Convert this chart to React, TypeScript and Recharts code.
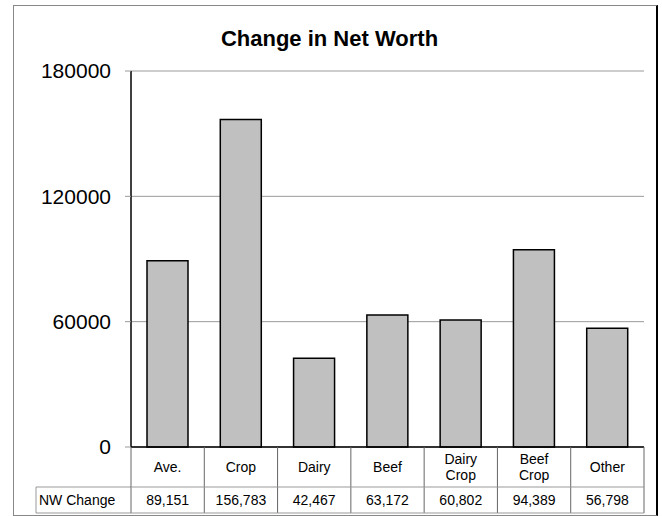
import React from 'react';
import { BarChart, Bar, XAxis, YAxis, CartesianGrid } from 'recharts';

const categories = ['Ave.', 'Crop', 'Dairy', 'Beef', 'Dairy Crop', 'Beef Crop', 'Other'];
const nwChange = [89151, 156783, 42467, 63172, 60802, 94389, 56798];
const seriesName = 'NW Change';
const yTicks = [0, 60000, 120000, 180000];

const data = categories.map((c, i) => ({ category: c, value: nwChange[i] }));

const FONT = "Arial, 'Liberation Sans', sans-serif";
const PLOT_LEFT = 131;
const PLOT_RIGHT = 644;
const AXIS_Y = 447;
const ROW_MID = 487;
const ROW_BOTTOM = 513;
const BAND = (PLOT_RIGHT - PLOT_LEFT) / categories.length;

function TableTick(props: any) {
  const { x, payload, index } = props;
  const label: string = payload.value;
  const words = label.split(' ');
  const left = x - BAND / 2;
  const right = x + BAND / 2;
  const val = nwChange[index];
  return (
    <g fontFamily={FONT} fontSize={14} fill="#000">
      {index === 0 && (
        <g>
          <line x1={36} y1={ROW_MID} x2={left} y2={ROW_MID} stroke="#999" />
          <line x1={36} y1={ROW_BOTTOM} x2={left} y2={ROW_BOTTOM} stroke="#999" />
          <line x1={36} y1={ROW_MID} x2={36} y2={ROW_BOTTOM} stroke="#999" />
          <text x={39} y={ROW_MID + 18} textAnchor="start">{seriesName}</text>
          <line x1={left} y1={AXIS_Y} x2={left} y2={ROW_BOTTOM} stroke="#666" />
        </g>
      )}
      <line x1={right} y1={AXIS_Y} x2={right} y2={ROW_BOTTOM} stroke="#666" />
      <line x1={left} y1={ROW_MID} x2={right} y2={ROW_MID} stroke="#999" />
      <line x1={left} y1={ROW_BOTTOM} x2={right} y2={ROW_BOTTOM} stroke="#999" />
      {words.length === 1 ? (
        <text x={x} y={AXIS_Y + 25} textAnchor="middle">{label}</text>
      ) : (
        words.map((w, i) => (
          <text key={i} x={x} y={AXIS_Y + 17 + i * 16} textAnchor="middle">{w}</text>
        ))
      )}
      <text x={x} y={ROW_MID + 18} textAnchor="middle">{val.toLocaleString('en-US')}</text>
    </g>
  );
}

export default function App() {
  return (
    <div style={{ position: 'absolute', left: 0, top: 0, width: 662, height: 516, background: '#fff' }}>
      <div
        style={{
          position: 'absolute',
          left: 13,
          top: 5,
          width: 642,
          height: 509,
          borderTop: '1px solid #888',
          borderLeft: '1px solid #888',
          borderBottom: '1px solid #888',
          borderRight: '2px solid #000',
        }}
      />
      <div
        style={{
          position: 'absolute',
          left: 0,
          width: 659,
          top: 28,
          textAlign: 'center',
          fontFamily: FONT,
          fontWeight: 'bold',
          fontSize: 22,
          lineHeight: 1,
        }}
      >
        Change in Net Worth
      </div>
      <div style={{ position: 'absolute', left: 0, top: 0 }}>
        <BarChart
          width={662}
          height={516}
          data={data}
          margin={{ top: 71, right: 662 - PLOT_RIGHT, left: 0, bottom: 0 }}
        >
          <CartesianGrid horizontal={true} vertical={false} stroke="#999" />
          <XAxis
            dataKey="category"
            height={516 - AXIS_Y}
            axisLine={{ stroke: '#000', strokeWidth: 1.5 }}
            tickLine={false}
            interval={0}
            tick={<TableTick />}
          />
          <YAxis
            width={PLOT_LEFT}
            domain={[0, 180000]}
            ticks={yTicks}
            interval={0}
            axisLine={{ stroke: '#000', strokeWidth: 1.5 }}
            tickLine={{ stroke: '#999' }}
            tickSize={6}
            tick={{ fontFamily: FONT, fontSize: 21, fill: '#000' }}
            tickMargin={14}
          />
          <Bar
            dataKey="value"
            name={seriesName}
            fill="#C0C0C0"
            stroke="#000"
            strokeWidth={1.5}
            barSize={41}
            isAnimationActive={false}
          />
        </BarChart>
      </div>
    </div>
  );
}
